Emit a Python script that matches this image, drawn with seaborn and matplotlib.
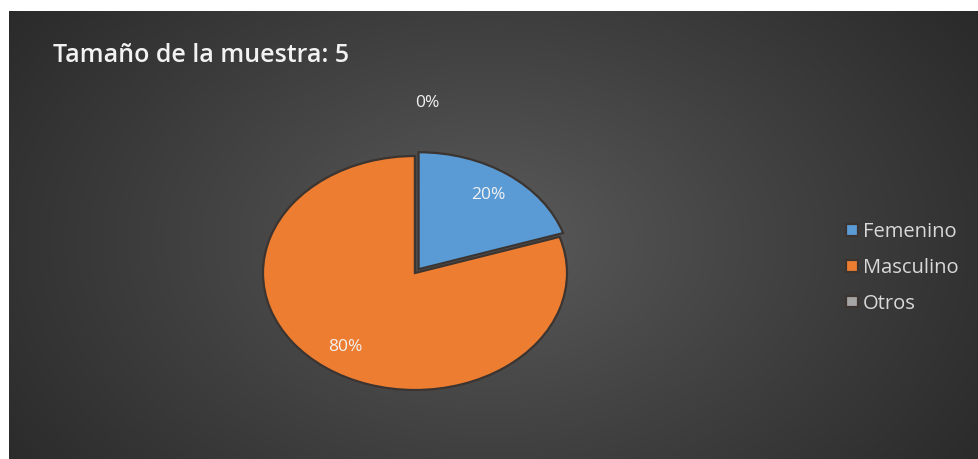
import numpy as np
import matplotlib
matplotlib.use("Agg")
import matplotlib.pyplot as plt
import seaborn as sns

# Data
categories = ["Femenino", "Masculino", "Otros"]
counts = [1, 4, 0]
sample_size = 5
title_text = "Tamaño de la muestra: 5"

sns.set_theme(style="dark")
plt.rcParams["font.family"] = ["Open Sans", "DejaVu Sans"]

palette = ["#5B9BD5", "#ED7D31", "#A5A5A5"]

W, H = 979, 459
fig = plt.figure(figsize=(W / 100, H / 100), dpi=100)
fig.patch.set_facecolor("white")

# Dark chart area with a soft radial gradient
bg = fig.add_axes([9 / W, 0, (W - 9) / W, (H - 11) / H])
bg.set_axis_off()
ny, nx = 448, 970
yy, xx = np.mgrid[0:ny, 0:nx]
cx, cy = 480, 230
r = np.sqrt(((xx - cx) / 620.0) ** 2 + ((yy - cy) / 420.0) ** 2)
r = np.clip(r, 0, 1) ** 0.9
inner = np.array([0x5c, 0x5c, 0x5c]) / 255
outer = np.array([0x28, 0x28, 0x28]) / 255
img = inner[None, None, :] * (1 - r[..., None]) + outer[None, None, :] * r[..., None]
bg.imshow(img, aspect="auto", extent=[0, 1, 0, 1], interpolation="bilinear")
bg.set_xlim(0, 1)
bg.set_ylim(0, 1)

# Pie (drawn slightly stretched horizontally)
cxp, cyp, rx, ry = 415, 273, 152, 117
ax = fig.add_axes([(cxp - rx) / W, (H - cyp - ry) / H, 2 * rx / W, 2 * ry / H])
ax.set_axis_off()
wedges, texts, autotexts = ax.pie(
    counts,
    colors=palette,
    startangle=90,
    counterclock=False,
    explode=[0.04, 0, 0],
    autopct=lambda p: f"{p:.0f}%",
    pctdistance=0.78,
    wedgeprops=dict(edgecolor="#3b3430", linewidth=1.6),
    textprops=dict(color="#f2f2f2", fontsize=12.5),
    normalize=True,
)
ax.set_aspect("auto")
ax.set_xlim(-1, 1)
ax.set_ylim(-1, 1)
for w in wedges:
    w.set_clip_on(False)
# Zero-share label sits outside the pie, above it
autotexts[2].set_position((0.08, 1.45))
autotexts[2].set_clip_on(False)

# Title
fig.text(53 / W, 1 - 55 / H, title_text, color="#f2f2f2", fontsize=18,
         fontweight="semibold", ha="left", va="center")

# Legend
leg = fig.legend(wedges, categories, loc="center left",
                 bbox_to_anchor=(828 / W, 1 - 268 / H),
                 frameon=False, fontsize=14.5, labelcolor="#d9d9d9",
                 handlelength=0.6, handleheight=0.5, handletextpad=0.25,
                 labelspacing=0.78)

fig.savefig("out.png", dpi=100, facecolor="white")
